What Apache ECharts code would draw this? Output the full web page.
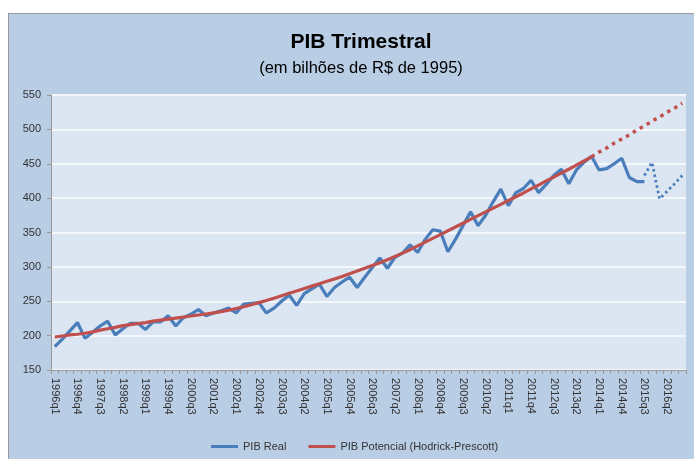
<!DOCTYPE html>
<html><head><meta charset="utf-8">
<script src="https://cdn.jsdelivr.net/npm/echarts@6/dist/echarts.min.js"></script>
<style>
html,body{margin:0;padding:0;background:#fff;}
#frame{position:absolute;left:8px;top:13px;width:700px;height:460px;background:#b9cde5;border:1px solid #9a9a9a;}
#c{position:absolute;left:0;top:0;width:694px;height:459px;}
</style></head>
<body><div id="frame"></div><div id="c"></div>
<script>
const categories = [
'1996q1','1996q2','1996q3','1996q4','1997q1','1997q2','1997q3','1997q4',
'1998q1','1998q2','1998q3','1998q4','1999q1','1999q2','1999q3','1999q4',
'2000q1','2000q2','2000q3','2000q4','2001q1','2001q2','2001q3','2001q4',
'2002q1','2002q2','2002q3','2002q4','2003q1','2003q2','2003q3','2003q4',
'2004q1','2004q2','2004q3','2004q4','2005q1','2005q2','2005q3','2005q4',
'2006q1','2006q2','2006q3','2006q4','2007q1','2007q2','2007q3','2007q4',
'2008q1','2008q2','2008q3','2008q4','2009q1','2009q2','2009q3','2009q4',
'2010q1','2010q2','2010q3','2010q4','2011q1','2011q2','2011q3','2011q4',
'2012q1','2012q2','2012q3','2012q4','2013q1','2013q2','2013q3','2013q4',
'2014q1','2014q2','2014q3','2014q4','2015q1','2015q2','2015q3','2015q4',
'2016q1','2016q2','2016q3','2016q4'];

const pibReal = [
184,195,207,219,196,205,214,221,201,210,218,218,209,220,220,229,
214,226,231,238,229,233,236,240,233,246,247,248,233,240,250,259,
244,261,268,275,257,270,278,285,270,285,299,313,298,314,320,332,
321,340,354,352,322,340,360,380,360,375,395,413,389,408,414,426,
408,420,433,442,421,441,452,461,441,443,450,458,430,424,424,
null,null,null,null,null];

const pibRealPrevisao = [
null,null,null,null,null,null,null,null,null,null,null,null,null,null,null,null,
null,null,null,null,null,null,null,null,null,null,null,null,null,null,null,null,
null,null,null,null,null,null,null,null,null,null,null,null,null,null,null,null,
null,null,null,null,null,null,null,null,null,null,null,null,null,null,null,null,
null,null,null,null,null,null,null,null,null,null,null,null,null,null,
433,452,399,410,421,433];

const pibPotencial = [
198,199.5,201,202,203.5,205.5,208,210,212,214.5,216,217.5,219,221,222.5,224,
225.5,227,228.5,230,231.5,233,235,237,239.5,242,245,248,251,254.5,258,261.5,
265,268.5,272,275.5,279,282.5,286,290,294,298,302,306,310.5,315,320,325,
330.5,336,341.5,347,352.5,358,363.5,369,374.5,380,385.5,391,396.5,402,407.5,413.5,
419,425,430.5,436.5,442,448,454,460,
null,null,null,null,null,null,null,null,null,null,null,null];

const pibPotencialProj = [
null,null,null,null,null,null,null,null,null,null,null,null,null,null,null,null,
null,null,null,null,null,null,null,null,null,null,null,null,null,null,null,null,
null,null,null,null,null,null,null,null,null,null,null,null,null,null,null,null,
null,null,null,null,null,null,null,null,null,null,null,null,null,null,null,null,
null,null,null,null,null,null,null,
460,467,473,480,486,492,499,505,512,518,525,531,538];

const yTicks = {min:150, max:550, step:50};

const blue = '#4a7ebb', red = '#c0504d';
const chart = echarts.init(document.getElementById('c'), null, {renderer:'canvas'});
chart.setOption({
  backgroundColor: 'transparent',
  animation: false,
  title: {
    text: 'PIB Trimestral',
    subtext: '(em bilhões de R$ de 1995)',
    left: 356, top: 27, textAlign: 'center', itemGap: 7,
    textStyle: {fontFamily:'Liberation Sans', fontSize: 21, fontWeight:'bold', color:'#000'},
    subtextStyle: {fontFamily:'Liberation Sans', fontSize: 16.5, color:'#000'}
  },
  legend: {
    data: ['PIB Real','PIB Potencial (Hodrick-Prescott)'],
    left: 206, top: 436, itemWidth: 27, itemHeight: 3, itemGap: 22,
    icon: 'rect',
    textStyle: {fontFamily:'Liberation Sans', fontSize: 11, color:'#333'}
  },
  grid: {left: 51, right: 8, top: 95, bottom: 89, show: true, backgroundColor:'#dce6f2', borderWidth: 0},
  xAxis: {
    type: 'category', data: categories, boundaryGap: true,
    axisLine: {lineStyle:{color:'#999', width:1}},
    axisTick: {show:true, interval:0, length:4, lineStyle:{color:'#999'}},
    axisLabel: {interval: 2, rotate: -90, margin: 8, fontFamily:'Liberation Sans', fontSize: 11, color:'#333'},
    splitLine: {show:false}
  },
  yAxis: {
    type: 'value', min: yTicks.min, max: yTicks.max, interval: yTicks.step,
    axisLine: {show:true, lineStyle:{color:'#999'}},
    axisTick: {show:true, length:4, lineStyle:{color:'#999'}},
    axisLabel: {margin: 10, fontFamily:'Liberation Sans', fontSize: 11, color:'#333'},
    splitLine: {lineStyle:{color:'#f4f7fb', width:2}}
  },
  series: [
    {name:'PIB Real', type:'line', data: pibReal, showSymbol:false, symbol:'none', z:3,
     lineStyle:{color:blue, width:3.2}, itemStyle:{color:blue}},
    {name:'PIB Real', type:'line', data: pibRealPrevisao, showSymbol:false, symbol:'none', z:3,
     lineStyle:{color:blue, width:2.8, type:[2.5,3]}, itemStyle:{color:blue}},
    {name:'PIB Potencial (Hodrick-Prescott)', type:'line', data: pibPotencial, showSymbol:false, symbol:'none', z:4,
     lineStyle:{color:red, width:3.2}, itemStyle:{color:red}},
    {name:'PIB Potencial (Hodrick-Prescott)', type:'line', data: pibPotencialProj, showSymbol:false, symbol:'none', z:4,
     lineStyle:{color:red, width:3.5, type:[3.5,4.5]}, itemStyle:{color:red}}
  ]
});
</script></body></html>
